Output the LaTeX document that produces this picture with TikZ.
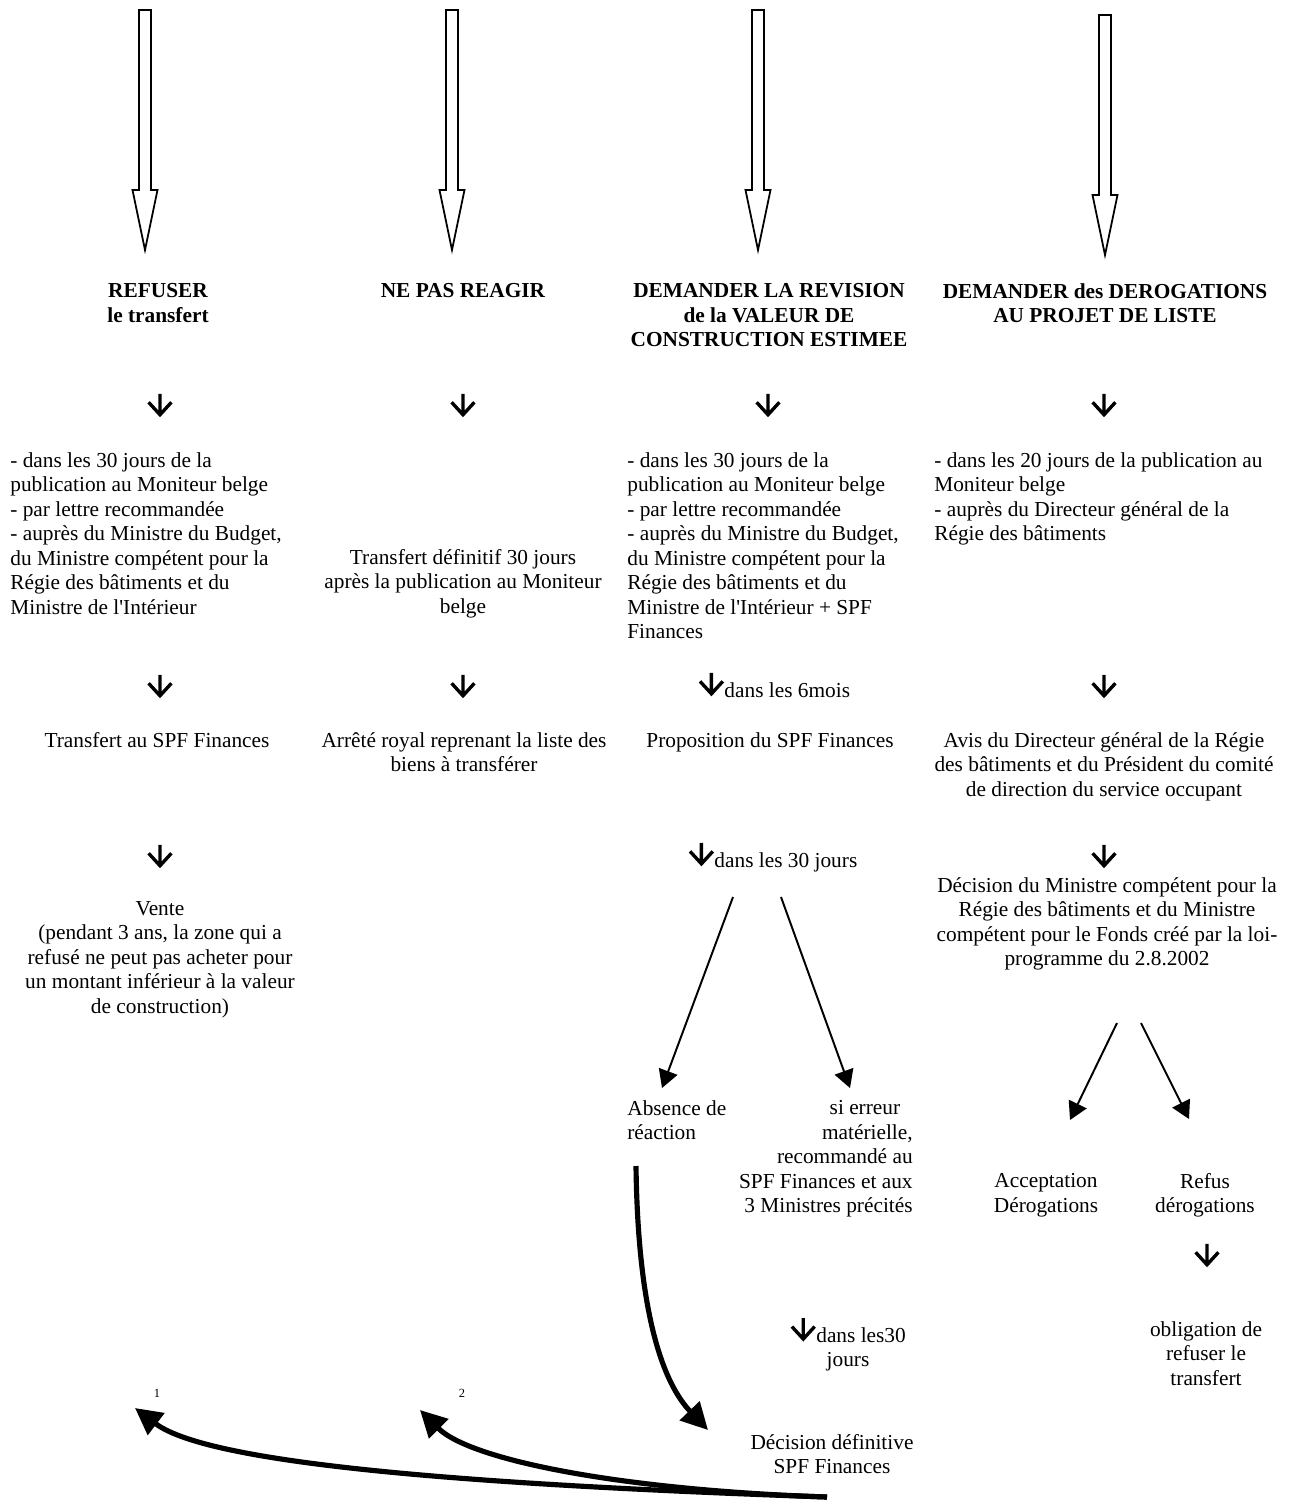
\documentclass[tikz,border=0pt]{standalone}
\usepackage{fontspec}
\setmainfont{Liberation Serif}
\usetikzlibrary{
	positioning,    % posizionamento relativo
	arrows.meta     % punte Triangle
}
% freccina verso il basso (come il simbolo del testo)
\newcommand{\giu}{\tikz[baseline=-1pt, x=1pt, y=1pt]\draw[line width=1.9pt, line join=miter] (0,12.6) -- (0,0.8) (-6.4,7.8) -- (0,0.8) -- (6.4,7.8);}

\begin{document}
\begin{tikzpicture}[x=0.5625pt, y=-0.5625pt,
	testo/.style={inner sep=0pt, font=\fontsize{12}{13.8}\selectfont},
	titolo/.style={testo, font=\fontsize{12}{13.8}\selectfont\bfseries, align=center, anchor=north},
	nota/.style={inner sep=0pt, font=\fontsize{7}{8}\selectfont},
	freccia/.style={-{Triangle[length=10pt, width=11pt]}, line width=1.1pt},
	frecciona/.style={-{Triangle[length=15pt, width=15pt]}, line width=2.9pt},
	freccione/.pic={\draw[line width=1pt, line join=miter] (-6,0) -- (6,0) -- (6,180) -- (12.5,180) -- (0,240) -- (-12.5,180) -- (-6,180) -- cycle;}]
	\useasboundingbox (0,0) rectangle (1289,1504);
	
	% --- Frecce grandi ---
	\foreach \xx/\yy in {145/10, 452/10, 758/10, 1105/15}
		\pic at (\xx,\yy) {freccione};
	
	% --- Titoli ---
	\node[titolo] (rifiuto) at (158,283) {REFUSER\\le transfert};
	\node[titolo] (nessuna) at (463,283) {NE PAS REAGIR};
	\node[titolo] (revisione) at (769,283) {DEMANDER LA REVISION\\de la VALEUR DE\\CONSTRUCTION ESTIMEE};
	\node[titolo] (deroghe) at (1105,283) {DEMANDER des DEROGATIONS\\AU PROJET DE LISTE};
	
	% --- Prima riga ---
	\foreach \xx [count=\i] in {160,463,768,1104}
		\node[testo] (g\i) at (\xx,405) {\giu};
	\node[testo, anchor=north west, align=left] (modi1) at (10,452) {- dans les 30 jours de la\\publication au Moniteur belge\\- par lettre recommandée\\- auprès du Ministre du Budget,\\du Ministre compétent pour la\\Régie des bâtiments et du\\Ministre de l\textquotesingle Intérieur};
	\node[testo, anchor=north, align=center] (modi2) at (463,549) {Transfert définitif 30 jours\\après la publication au Moniteur\\belge};
	\node[testo, anchor=north west, align=left] (modi3) at (627,452) {- dans les 30 jours de la\\publication au Moniteur belge\\- par lettre recommandée\\- auprès du Ministre du Budget,\\du Ministre compétent pour la\\Régie des bâtiments et du\\Ministre de l\textquotesingle Intérieur + SPF\\Finances};
	\node[testo, anchor=north west, align=left] (modi4) at (934,452) {- dans les 20 jours de la publication au\\Moniteur belge\\- auprès du Directeur général de la\\Régie des bâtiments};
	
	% --- Seconda riga ---
	\node[testo] (h1) at (160,686) {\giu};
	\node[testo] (h2) at (463,686) {\giu};
	\node[testo, anchor=base west] (h3) at (698,697) {\giu dans les 6mois};
	\node[testo] (h4) at (1104,686) {\giu};
	\node[testo, anchor=north] (trasf) at (157,732) {Transfert au SPF Finances};
	\node[testo, anchor=north, align=center] (arrete) at (464,732) {Arrêté royal reprenant la liste des\\biens à transférer};
	\node[testo, anchor=north] (propos) at (770,732) {Proposition du SPF Finances};
	\node[testo, anchor=north, align=center] (avis) at (1104,732) {Avis du Directeur général de la Régie\\des bâtiments et du Président du comité\\de direction du service occupant};
	
	% --- Terza riga ---
	\node[testo] (k1) at (160,856) {\giu};
	\node[testo, anchor=base west] (k3) at (688,867) {\giu dans les 30 jours};
	\node[testo] (k4) at (1104,856) {\giu};
	\node[testo, anchor=north, align=center] (vente) at (160,901) {Vente\\(pendant 3 ans, la zone qui a\\refusé ne peut pas acheter pour\\un montant inférieur à la valeur\\de construction)};
	\node[testo, anchor=north, align=center] (decmin) at (1107,877) {Décision du Ministre compétent pour la\\Régie des bâtiments et du Ministre\\compétent pour le Fonds créé par la loi-\\programme du 2.8.2002};
	
	% --- Diramazioni ---
	\node[testo, anchor=north west, align=left] (assenza) at (627,1100) {Absence de\\réaction};
	\node[testo, anchor=north east, align=right] (errore) at (913,1100) {si erreur\hspace*{7pt}\\matérielle,\hspace*{2pt}\\recommandé au\\SPF Finances et aux\\3 Ministres précités};
	\node[testo, anchor=north, align=center] (accett) at (1046,1173) {Acceptation\\Dérogations};
	\node[testo, anchor=north, align=center] (rifder) at (1205,1173) {Refus\\dérogations};
	\node[testo] (m4) at (1207,1255) {\giu};
	\node[testo, anchor=north, align=center] (obblig) at (1206,1321) {obligation de\\refuser le\\transfert};
	\node[testo, anchor=north, align=center] (d30) at (848,1316) {\giu dans les30\\jours};
	\node[testo, anchor=north, align=center] (decfin) at (832,1434) {Décision définitive\\SPF Finances};
	\node[nota] (n1) at (157,1393) {1};
	\node[nota] (n2) at (462,1393) {2};
	
	% punti di partenza e arrivo delle frecce
	\coordinate (s1) at (733,897);
	\coordinate (s2) at (781,897);
	\coordinate (t1) at (662,1088);
	\coordinate (t2) at (850,1088);
	\coordinate (s3) at (1117,1023);
	\coordinate (s4) at (1141,1023);
	\coordinate (t3) at (1070,1120);
	\coordinate (t4) at (1189,1119);
	\coordinate (c0) at (636,1166);
	\coordinate (c1) at (708,1430);
	\coordinate (base) at (827,1497);
	\coordinate (p1) at (135,1408);
	\coordinate (p2) at (420,1410);
	
	% --- Frecce ---
	\draw[freccia] (s1) -- (t1);
	\draw[freccia] (s2) -- (t2);
	\draw[freccia] (s3) -- (t3);
	\draw[freccia] (s4) -- (t4);
	\draw[frecciona] (c0) .. controls (638,1320) and (665,1385) .. (c1);
	\draw[frecciona] (base) .. controls (480,1485) and (210,1465) .. (p1);
	\draw[frecciona] (base) .. controls (620,1490) and (470,1460) .. (p2);
\end{tikzpicture}
\end{document}
